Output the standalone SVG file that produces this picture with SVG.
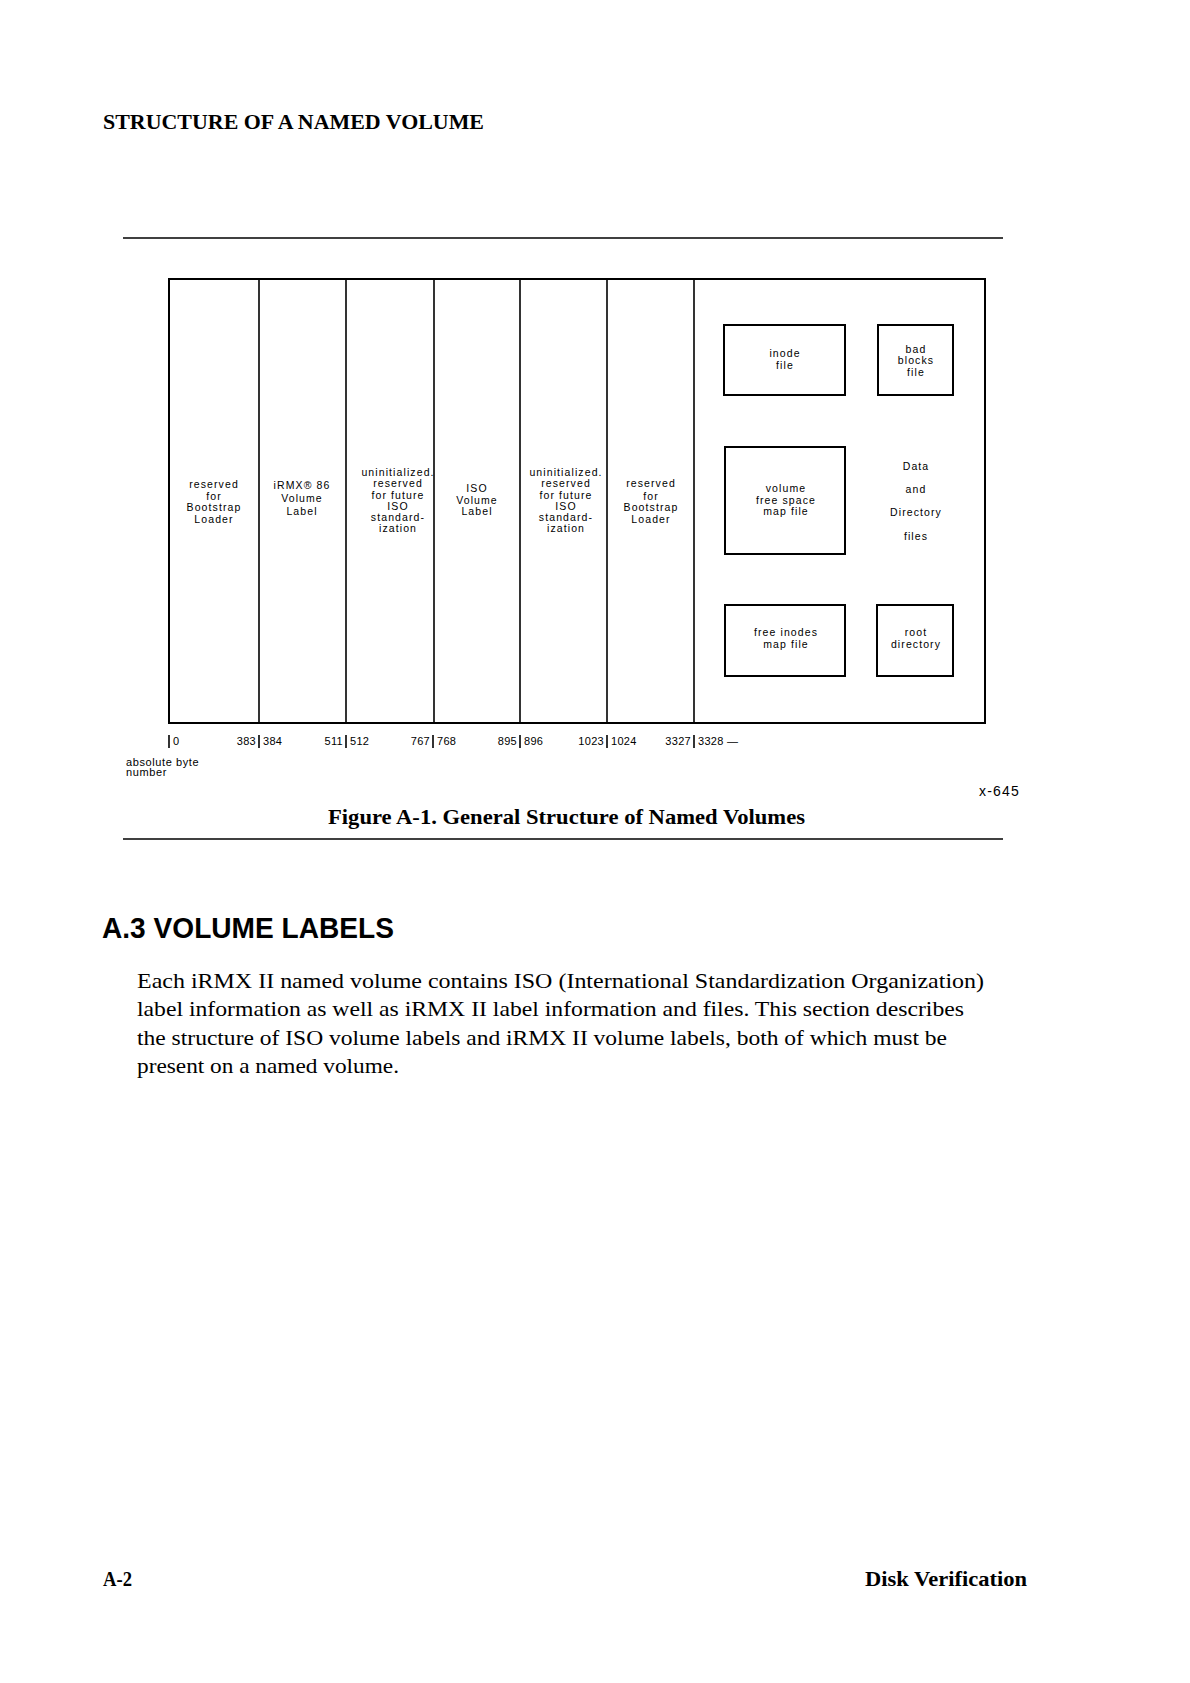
<svg xmlns="http://www.w3.org/2000/svg" width="1190" height="1683" viewBox="0 0 1190 1683">
<style>
.bg{fill:#ffffff}
.ln{stroke:#000;stroke-width:2;fill:none}
.dv{stroke:#000;stroke-width:1.6;fill:none}
.bx{stroke:#000;stroke-width:2;fill:#fff}
.t{font-family:"Liberation Sans",Arial,sans-serif;font-size:10.5px;letter-spacing:1.1px;text-anchor:middle;fill:#000}
.ax{font-family:"Liberation Sans",Arial,sans-serif;font-size:11px;letter-spacing:0.6px;fill:#000}
.num{font-family:"Liberation Sans",Arial,sans-serif;font-size:11px;letter-spacing:0.3px;fill:#000}
.hd{font-family:"Liberation Serif","Times New Roman",serif;font-weight:bold;fill:#000}
.h2{font-family:"Liberation Sans",Arial,sans-serif;font-weight:bold;fill:#000}
.p{font-family:"Liberation Serif","Times New Roman",serif;font-size:21px;fill:#000}
</style>
<rect class="bg" x="0" y="0" width="1190" height="1683"/>
<text class="hd" x="103" y="129" font-size="20" textLength="381" lengthAdjust="spacingAndGlyphs">STRUCTURE OF A NAMED VOLUME</text>
<line class="dv" x1="123" y1="238" x2="1003" y2="238"/>

<g id="volume-frame">
<rect class="ln" x="169" y="279" width="816" height="444"/>
</g>
<g id="connectors">
<line class="dv" x1="259" y1="279" x2="259" y2="723"/>
<line class="dv" x1="346" y1="279" x2="346" y2="723"/>
<line class="dv" x1="434" y1="279" x2="434" y2="723"/>
<line class="dv" x1="520" y1="279" x2="520" y2="723"/>
<line class="dv" x1="607" y1="279" x2="607" y2="723"/>
<line class="dv" x1="694" y1="279" x2="694" y2="723"/>
</g>

<g id="col-bootstrap1">
<text class="t" x="214" y="488">reserved</text>
<text class="t" x="214" y="500">for</text>
<text class="t" x="214" y="511">Bootstrap</text>
<text class="t" x="214" y="523">Loader</text>
</g>
<g id="col-irmx-label">
<text class="t" x="302" y="489">iRMX® 86</text>
<text class="t" x="302" y="502">Volume</text>
<text class="t" x="302" y="515">Label</text>
</g>
<g id="col-uninit1">
<text class="t" x="398" y="476">uninitialized.</text>
<text class="t" x="398" y="487">reserved</text>
<text class="t" x="398" y="499">for future</text>
<text class="t" x="398" y="510">ISO</text>
<text class="t" x="398" y="521">standard-</text>
<text class="t" x="398" y="532">ization</text>
</g>
<g id="col-iso-label">
<text class="t" x="477" y="492">ISO</text>
<text class="t" x="477" y="504">Volume</text>
<text class="t" x="477" y="515">Label</text>
</g>
<g id="col-uninit2">
<text class="t" x="566" y="476">uninitialized.</text>
<text class="t" x="566" y="487">reserved</text>
<text class="t" x="566" y="499">for future</text>
<text class="t" x="566" y="510">ISO</text>
<text class="t" x="566" y="521">standard-</text>
<text class="t" x="566" y="532">ization</text>
</g>
<g id="col-bootstrap2">
<text class="t" x="651" y="487">reserved</text>
<text class="t" x="651" y="500">for</text>
<text class="t" x="651" y="511">Bootstrap</text>
<text class="t" x="651" y="523">Loader</text>
</g>

<g id="inode-file">
<rect class="bx" x="724" y="325" width="121" height="70"/>
<text class="t" x="785" y="357">inode</text>
<text class="t" x="785" y="369">file</text>
</g>
<g id="bad-blocks-file">
<rect class="bx" x="878" y="325" width="75" height="70"/>
<text class="t" x="916" y="353">bad</text>
<text class="t" x="916" y="364">blocks</text>
<text class="t" x="916" y="376">file</text>
</g>
<g id="free-space-map">
<rect class="bx" x="725" y="447" width="120" height="107"/>
<text class="t" x="786" y="492">volume</text>
<text class="t" x="786" y="504">free space</text>
<text class="t" x="786" y="515">map file</text>
</g>
<g id="data-directory-files">
<text class="t" x="916" y="470">Data</text>
<text class="t" x="916" y="493">and</text>
<text class="t" x="916" y="516">Directory</text>
<text class="t" x="916" y="540">files</text>
</g>
<g id="free-inodes-map">
<rect class="bx" x="725" y="605" width="120" height="71"/>
<text class="t" x="786" y="636">free inodes</text>
<text class="t" x="786" y="648">map file</text>
</g>
<g id="root-directory">
<rect class="bx" x="877" y="605" width="76" height="71"/>
<text class="t" x="916" y="636">root</text>
<text class="t" x="916" y="648">directory</text>
</g>

<g id="axis">
<line class="dv" x1="169" y1="735" x2="169" y2="748"/>
<line class="dv" x1="259" y1="735" x2="259" y2="748"/>
<line class="dv" x1="346" y1="735" x2="346" y2="748"/>
<line class="dv" x1="433" y1="735" x2="433" y2="748"/>
<line class="dv" x1="520" y1="735" x2="520" y2="748"/>
<line class="dv" x1="607" y1="735" x2="607" y2="748"/>
<line class="dv" x1="694" y1="735" x2="694" y2="748"/>
<text class="num" x="173" y="745">0</text>
<text class="num" x="256" y="745" text-anchor="end">383</text>
<text class="num" x="263" y="745">384</text>
<text class="num" x="343" y="745" text-anchor="end">511</text>
<text class="num" x="350" y="745">512</text>
<text class="num" x="430" y="745" text-anchor="end">767</text>
<text class="num" x="437" y="745">768</text>
<text class="num" x="517" y="745" text-anchor="end">895</text>
<text class="num" x="524" y="745">896</text>
<text class="num" x="604" y="745" text-anchor="end">1023</text>
<text class="num" x="611" y="745">1024</text>
<text class="num" x="691" y="745" text-anchor="end">3327</text>
<text class="num" x="698" y="745">3328 —</text>
<text class="ax" x="126" y="766">absolute byte</text>
<text class="ax" x="126" y="776">number</text>
</g>
<text class="ax" x="979" y="796" style="font-size:14px;letter-spacing:1.2px">x-645</text>
<text class="hd" x="328" y="824" font-size="21" textLength="477" lengthAdjust="spacingAndGlyphs">Figure A-1.  General Structure of Named Volumes</text>
<line class="dv" x1="123" y1="839" x2="1003" y2="839"/>

<text class="h2" x="102" y="938" font-size="29" textLength="292" lengthAdjust="spacingAndGlyphs">A.3  VOLUME LABELS</text>
<text class="p" x="137" y="988" textLength="847" lengthAdjust="spacingAndGlyphs">Each iRMX II named volume contains ISO (International Standardization Organization)</text>
<text class="p" x="137" y="1016" textLength="827" lengthAdjust="spacingAndGlyphs">label information as well as iRMX II label information and files.  This section describes</text>
<text class="p" x="137" y="1045" textLength="810" lengthAdjust="spacingAndGlyphs">the structure of ISO volume labels and iRMX II volume labels, both of which must be</text>
<text class="p" x="137" y="1073" textLength="262" lengthAdjust="spacingAndGlyphs">present on a named volume.</text>

<text class="hd" x="103" y="1586" font-size="21" textLength="29" lengthAdjust="spacingAndGlyphs">A-2</text>
<text class="hd" x="865" y="1586" font-size="21" textLength="162" lengthAdjust="spacingAndGlyphs">Disk Verification</text>
</svg>
